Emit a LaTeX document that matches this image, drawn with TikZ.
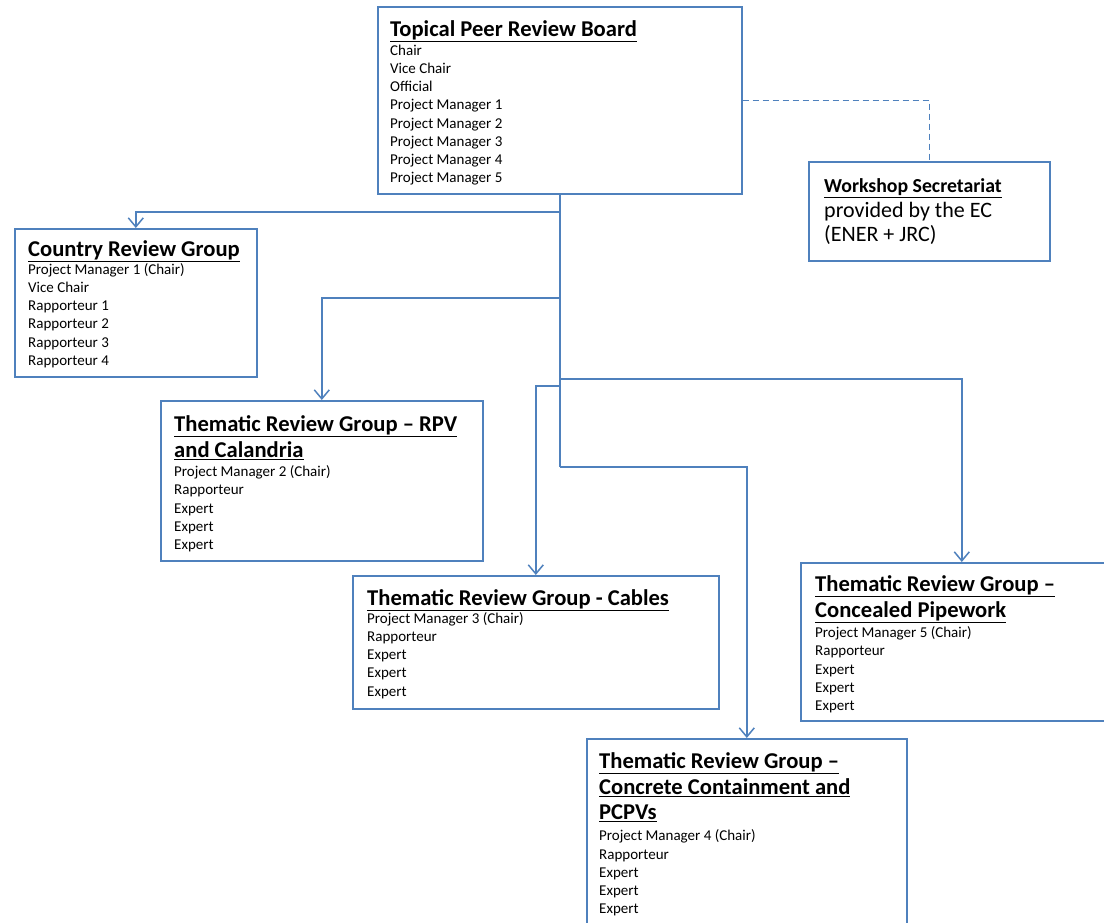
\documentclass[tikz,border=0pt]{standalone}
\usepackage{fontspec}
\setmainfont{Carlito}
\usetikzlibrary{arrows.meta,positioning}
\definecolor{orgblue}{HTML}{4F81BD}
\newcommand{\grptitle}[1]{{\fontsize{22.6}{26}\selectfont\bfseries\underline{#1}}}
\newcommand{\sectitle}[1]{{\fontsize{19.8}{24}\selectfont\bfseries\underline{#1}}}

\begin{document}
\begin{tikzpicture}[x=1pt,y=-1pt,
  grpbox/.style={draw=orgblue,line width=1.6pt,anchor=north west,inner sep=0pt},
  grptext/.style={anchor=north west,align=left,inner sep=0pt,font=\fontsize{15}{18.2}\selectfont},
  sectext/.style={grptext,font=\fontsize{22}{24.5}\selectfont},
  tree/.style={draw=orgblue,line width=1.8pt},
  branch/.style={tree,-{Straight Barb[length=9pt,width=15pt,line width=1.5pt]}},
  secline/.style={draw=orgblue,line width=1.4pt,dash pattern=on 6pt off 4pt}]
\useasboundingbox (0,0) rectangle (1104,922);
\fill[white] (0,0) rectangle (1104,922);

\node[grpbox,minimum width=364pt,minimum height=187pt] (board) at (377,6) {};
\node[grpbox,minimum width=241pt,minimum height=99pt] (secr) at (808,161) {};
\node[grpbox,minimum width=242pt,minimum height=148pt] (country) at (14,228) {};
\node[grpbox,minimum width=322pt,minimum height=160pt] (rpv) at (160,400) {};
\node[grpbox,minimum width=366pt,minimum height=133pt] (cables) at (352,575) {};
\node[grpbox,minimum width=322pt,minimum height=158pt] (pipe) at (800,562) {};
\node[grpbox,minimum width=320pt,minimum height=200pt] (concrete) at (586,738) {};

\node[grptext] (board-t) at ([xshift=13pt,yshift=-14pt]board.north west)
  {\grptitle{Topical Peer Review Board}\\[1pt] Chair\\ Vice Chair\\ Official\\
   Project Manager 1\\ Project Manager 2\\ Project Manager 3\\ Project Manager 4\\ Project Manager 5};
\node[sectext] (secr-t) at ([xshift=16pt,yshift=-17.5pt]secr.north west)
  {\sectitle{Workshop Secretariat}\\ provided by the EC\\ (ENER + JRC)};
\node[grptext] (country-t) at ([xshift=14pt,yshift=-12pt]country.north west)
  {\grptitle{Country Review Group}\\[0pt] Project Manager 1 (Chair)\\ Vice Chair\\
   Rapporteur 1\\ Rapporteur 2\\ Rapporteur 3\\ Rapporteur 4};
\node[grptext] (rpv-t) at ([xshift=14pt,yshift=-15pt]rpv.north west)
  {\grptitle{Thematic Review Group -- RPV}\\[4pt] \grptitle{and Calandria}\\[1pt]
   Project Manager 2 (Chair)\\ Rapporteur\\ Expert\\ Expert\\ Expert};
\node[grptext] (cables-t) at ([xshift=15pt,yshift=-14pt]cables.north west)
  {\grptitle{Thematic Review Group - Cables}\\[0pt] Project Manager 3 (Chair)\\
   Rapporteur\\ Expert\\ Expert\\ Expert};
\node[grptext] (pipe-t) at ([xshift=15pt,yshift=-13pt]pipe.north west)
  {\grptitle{Thematic Review Group --}\\[4pt] \grptitle{Concealed Pipework}\\[2pt]
   Project Manager 5 (Chair)\\ Rapporteur\\ Expert\\ Expert\\ Expert};
\node[grptext] (concrete-t) at ([xshift=13pt,yshift=-14pt]concrete.north west)
  {\grptitle{Thematic Review Group --}\\[4pt] \grptitle{Concrete Containment and}\\[7pt]
   \grptitle{PCPVs}\\[3pt] Project Manager 4 (Chair)\\ Rapporteur\\ Expert\\ Expert\\ Expert};

\coordinate (j1) at ([yshift=-17pt]board.south);
\coordinate (j2) at ([yshift=-103pt]board.south);
\coordinate (j4) at ([yshift=-184pt]board.south);
\coordinate (j3) at ([yshift=-191pt]board.south);
\coordinate (j5) at ([yshift=-272pt]board.south);

\draw[tree] (board.south) -- (j5);
\draw[branch] (j1) -| (country.north);
\draw[branch] (j2) -| (rpv.north);
\draw[branch] (j3) -| (cables.north);
\draw[branch] (j4) -| (pipe.north);
\draw[branch] (j5) -| (concrete.north);
\draw[secline] (board.east) -| (secr.north);
\end{tikzpicture}
\end{document}
